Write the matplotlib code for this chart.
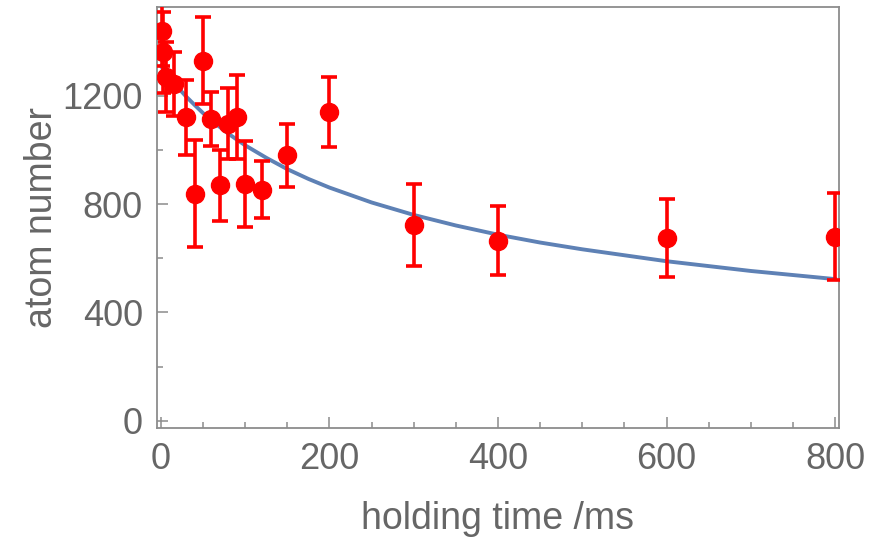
import numpy as np
import matplotlib
matplotlib.use('Agg')
import matplotlib.pyplot as plt
from matplotlib.ticker import MultipleLocator

plt.rcParams['font.family'] = ['Liberation Sans', 'DejaVu Sans']

# measured atom numbers
t_ms = [1, 2, 6, 15, 30, 40, 50, 60, 70, 80, 90, 100, 120, 150, 200, 300, 400, 600, 800]
atoms = [1440, 1360, 1270, 1243, 1120, 838, 1330, 1115, 870, 1097, 1120, 875, 853, 980, 1140, 722, 665, 675, 680]
atoms_err = [130, 150, 130, 117, 137, 198, 160, 99, 131, 131, 155, 159, 105, 116, 130, 152, 128, 143, 160]

# fitted decay curve
fit_t = [0, 10, 20, 30, 40, 50, 60, 80, 100, 125, 150, 175, 200, 250, 300, 350, 400, 450, 500, 600, 700, 800]
fit_n = [1310, 1269, 1231, 1197, 1166, 1136, 1109, 1060, 1017, 971, 929, 893, 861, 806, 760, 721, 687, 658, 633, 589, 553, 523]

grey = '#666666'
frame = '#8c8c8c'

fig = plt.figure(figsize=(8.72, 5.44), dpi=100)
ax = fig.add_axes([0.1797, 0.2127, 0.7828, 0.775])

ax.plot(fit_t, fit_n, color='#5e81b5', linewidth=2.8, zorder=2)
ax.errorbar(t_ms, atoms, yerr=atoms_err, fmt='o', color='#ff0000', ecolor='#ff0000',
            markersize=13, elinewidth=2.6, capsize=5.5, capthick=2.6, zorder=3)

ax.set_xlim(-5, 805)
ax.set_ylim(-28, 1529)
ax.xaxis.set_major_locator(MultipleLocator(200))
ax.xaxis.set_minor_locator(MultipleLocator(50))
ax.yaxis.set_major_locator(MultipleLocator(400))
ax.yaxis.set_minor_locator(MultipleLocator(200))

for s in ax.spines.values():
    s.set_color(frame)
    s.set_linewidth(1.3)

ax.tick_params(which='both', direction='in', color=frame, top=False, right=False,
               labelsize=26, labelcolor=grey, width=1.1)
ax.tick_params(which='major', length=8, pad=10)
ax.tick_params(which='minor', length=4)

ax.set_xlabel('holding time /ms', fontsize=27, color=grey, labelpad=17)
ax.set_ylabel('atom number', fontsize=27, color=grey, labelpad=2)

plt.savefig('out.png', dpi=100)
plt.close()
